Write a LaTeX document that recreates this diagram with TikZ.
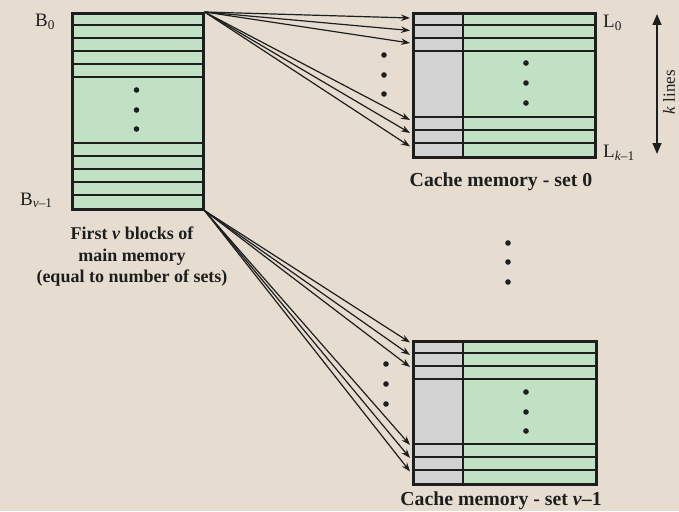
\documentclass[tikz,border=0pt]{standalone}
\usepackage{fontspec}
\setmainfont{Liberation Serif}
\usetikzlibrary{arrows.meta}
\definecolor{paper}{HTML}{E6DDD0}
\definecolor{linegreen}{HTML}{C0E1C3}
\definecolor{taggray}{HTML}{D2D2D2}
\definecolor{ink}{HTML}{1E1E1E}
\tikzset{
  outerbox/.style={draw=ink, line width=2.6pt, inner sep=0pt, anchor=north west},
  rowline/.style={draw=ink, line width=1.7pt},
  map/.style={draw=ink, line width=1.2pt, -{Stealth[length=9pt,width=6.5pt]}},
  dot/.style={fill=ink},
  lbl/.style={font=\fontsize{19}{22}\selectfont, inner sep=0pt, text=ink},
  captext/.style={font=\fontsize{18}{21.5}\selectfont\bfseries, inner sep=0pt, text=ink, align=center},
  setcap/.style={font=\fontsize{19.8}{22}\selectfont\bfseries, inner sep=0pt, text=ink},
}
\begin{document}
\begin{tikzpicture}[x=1pt,y=-1pt]
\fill[paper] (0,0) rectangle (679,511);
\useasboundingbox (0,0) rectangle (679,511);

% ---------- first v blocks of main memory ----------
\node[outerbox, fill=linegreen, minimum width=131pt, minimum height=196pt] (mm) at (71,12) {};
\foreach \y in {25,38,51,64,77,143,156,169,182,195}
  \draw[rowline] (71,\y) -- (202,\y);
\node[outerbox, minimum width=131pt, minimum height=196pt] (mmframe) at (71,12) {};
\foreach \y in {90,110,129}
  \fill[dot] (136.5,\y) circle (2.8);

\node[lbl, anchor=base west] (b0) at (35,27) {B\textsubscript{0}};
\node[lbl, anchor=base west] (bv) at (20,205) {B\textsubscript{\textit{v}–1}};
\node[captext] (mmcap) at (132,257) {First \textit{v} blocks of\\main memory\\(equal to number of sets)};

% ---------- cache memory, set 0 ----------
\node[outerbox, fill=linegreen, minimum width=182pt, minimum height=144pt] (c0) at (412,12) {};
\fill[taggray] (412,12) rectangle (463,156);
\foreach \y in {25,38,51,117,130,143}
  \draw[rowline] (412,\y) -- (594,\y);
\draw[rowline, line width=2.4pt] (463,12) -- (463,156);
\node[outerbox, minimum width=182pt, minimum height=144pt] (c0frame) at (412,12) {};
\foreach \y in {63,83,103}
  \fill[dot] (526,\y) circle (2.8);

\node[lbl, anchor=base west] (l0) at (603,28) {L\textsubscript{0}};
\node[lbl, anchor=base west] (lk) at (603,157) {L\textsubscript{\textit{k}–1}};
\node[setcap, anchor=base] (c0cap) at (501,186) {Cache memory - set 0};

\coordinate (ktop) at (657,14);
\coordinate (kbot) at (657,154);
\draw[draw=ink, line width=1.6pt, {Triangle[length=11pt,width=9pt]}-{Triangle[length=11pt,width=9pt]}] (ktop) -- (kbot);
\node[lbl, font=\fontsize{17}{20}\selectfont, rotate=90] (klines) at (669,92) {\textit{k} lines};

% ---------- cache memory, set v-1 ----------
\node[outerbox, fill=linegreen, minimum width=183pt, minimum height=143pt] (c1) at (412,340) {};
\fill[taggray] (412,340) rectangle (463,483);
\foreach \y in {353,366,379,444,457,470}
  \draw[rowline] (412,\y) -- (595,\y);
\draw[rowline, line width=2.4pt] (463,340) -- (463,483);
\node[outerbox, minimum width=183pt, minimum height=143pt] (c1frame) at (412,340) {};
\foreach \y in {392,412,431}
  \fill[dot] (526,\y) circle (2.8);
\node[setcap, anchor=base] (c1cap) at (501,505) {Cache memory - set \textit{v}–1};

% ---------- sets between ----------
\foreach \y in {243,262,282}
  \fill[dot] (508,\y) circle (2.8);

% ---------- mapping of blocks to lines ----------
\foreach \n/\y in {a/18,b/30.5,c/43,d/120,e/133,f/146.5}
  \coordinate (s0\n) at (410,\y);
\foreach \n in {a,b,c,d,e,f}
  \draw[map] (mmframe.north east) -- (s0\n);
\foreach \y in {55,75,94}
  \fill[dot] (384,\y) circle (2.8);

\foreach \n/\y in {a/342.5,b/355,c/367,d/445,e/458,f/471.5}
  \coordinate (s1\n) at (410,\y);
\foreach \n in {a,b,c,d,e,f}
  \draw[map] (mmframe.south east) -- (s1\n);
\foreach \y in {364,384,404}
  \fill[dot] (386,\y) circle (2.8);
\end{tikzpicture}
\end{document}
